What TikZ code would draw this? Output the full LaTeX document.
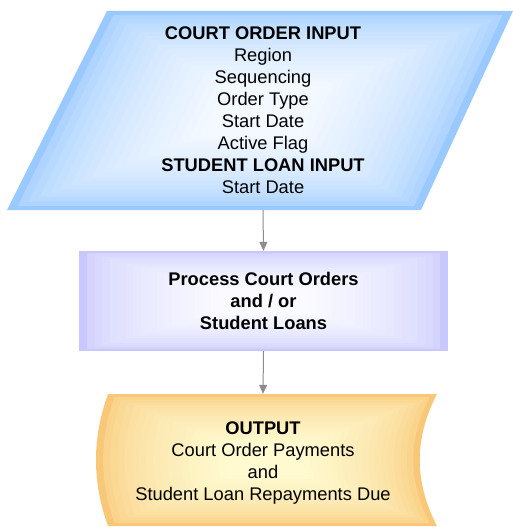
\documentclass[tikz,border=0pt]{standalone}
\usepackage{fontspec}
\setmainfont{Liberation Sans}
\usetikzlibrary{arrows.meta}
\definecolor{blueE}{HTML}{99C9FF}
\definecolor{blueC}{HTML}{F4F9FF}
\definecolor{lavE}{HTML}{C8C8FF}
\definecolor{lavC}{HTML}{FAFAFF}
\definecolor{orgE}{HTML}{F8C878}
\definecolor{orgC}{HTML}{FFFAD0}
\definecolor{arrowgrey}{HTML}{8C8C8C}
\tikzset{
  lbl/.style={align=center, inner sep=0pt, font=\fontsize{18.3}{22}\selectfont, text=black},
  conn/.style={draw=arrowgrey, line width=1pt, -{Triangle[length=9pt,width=8pt]}},
}
\begin{document}
\begin{tikzpicture}[x=1pt,y=-1pt]
\useasboundingbox (0,0) rectangle (513,527);
% input parallelogram gradient
\foreach \i in {0,...,18}{
  \pgfmathsetmacro\s{1-0.042*\i}
  \pgfmathsetmacro\p{100*sqrt(\i/18)}
  \fill[blueC!\p!blueE, shift={(262,110.5)}, scale=\s]
    (-155,-99.5) -- (251,-99.5) -- (159,99.5) -- (-255,99.5) -- cycle;
}
% process box gradient
\foreach \i in {0,...,18}{
  \pgfmathsetmacro\s{1-0.042*\i}
  \pgfmathsetmacro\p{100*sqrt(\i/18)}
  \fill[lavC!\p!lavE, shift={(263.5,301)}, scale=\s]
    (-184.5,-50) rectangle (184.5,50);
}
% output shape gradient
\foreach \i in {0,...,18}{
  \pgfmathsetmacro\s{1-0.042*\i}
  \pgfmathsetmacro\p{100*sqrt(\i/18)}
  \fill[orgC!\p!orgE, shift={(266,460)}, scale=\s]
    (-158,66) .. controls (-174,22) and (-174,-22) .. (-158,-66)
    -- (171,-66) .. controls (148,-22) and (148,22) .. (171,66) -- cycle;
}
\node[lbl, minimum height=199pt] (input) at (263,110.5)
  {\textbf{COURT ORDER INPUT}\\Region\\Sequencing\\Order Type\\Start Date\\Active Flag\\\textbf{STUDENT LOAN INPUT}\\Start Date};
\node[lbl, minimum height=100pt, minimum width=369pt] (process) at (263.5,301)
  {\textbf{Process Court Orders}\\\textbf{and / or}\\\textbf{Student Loans}};
\node[lbl, minimum height=138pt] (output) at (263,463)
  {\textbf{OUTPUT}\\Court Order Payments\\and\\Student Loan Repayments Due};
\draw[conn] (input.south) -- (process.north);
\draw[conn] (process.south) -- (output.north);
\end{tikzpicture}
\end{document}
